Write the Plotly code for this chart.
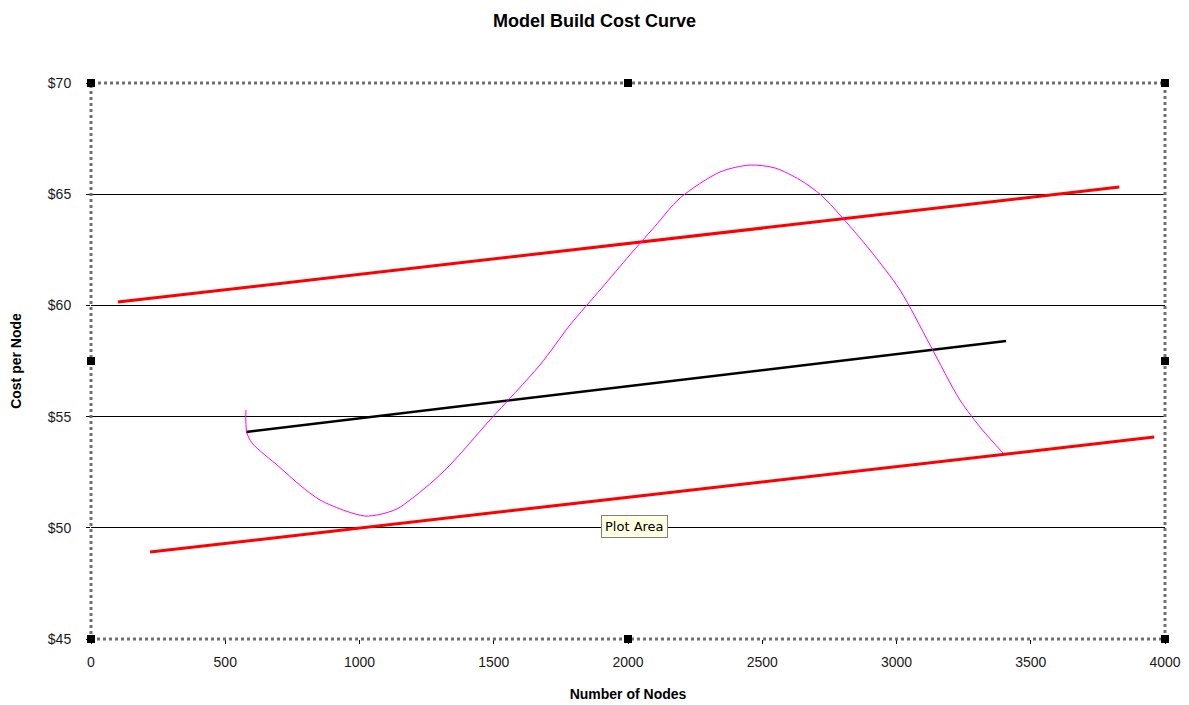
import plotly.graph_objects as go

# Upper and lower cost bounds (red), mid trend (black), observed cost curve (magenta)
upper_x = [100, 3830]
upper_y = [60.15, 65.32]
lower_x = [220, 3960]
lower_y = [48.91, 54.08]
trend_x = [577, 3408]
trend_y = [54.31, 58.40]
curve_x = [577, 580, 600, 700, 778, 853, 950, 1020, 1076, 1140, 1188, 1260, 1337,
           1486, 1672, 1784, 1900, 2007, 2100, 2194, 2343, 2454, 2547, 2641, 2720,
           2790, 2901, 3013, 3125, 3236, 3320, 3397]
curve_y = [55.30, 54.3, 53.81, 52.75, 51.92, 51.25, 50.75, 50.53, 50.60, 50.85, 51.25,
           51.95, 52.82, 54.85, 57.32, 59.12, 60.75, 62.27, 63.55, 64.83, 66.0, 66.31,
           66.18, 65.64, 64.95, 64.06, 62.49, 60.69, 58.22, 55.75, 54.4, 53.36]

x_ticks = [0, 500, 1000, 1500, 2000, 2500, 3000, 3500, 4000]
y_ticks = [45, 50, 55, 60, 65, 70]
y_labels = ["$45", "$50", "$55", "$60", "$65", "$70"]

fig = go.Figure()
fig.add_trace(go.Scatter(x=upper_x, y=upper_y, mode="lines",
                         line=dict(color="#FF0000", width=3), hoverinfo="skip"))
fig.add_trace(go.Scatter(x=lower_x, y=lower_y, mode="lines",
                         line=dict(color="#FF0000", width=3), hoverinfo="skip"))
fig.add_trace(go.Scatter(x=trend_x, y=trend_y, mode="lines",
                         line=dict(color="#000000", width=2.5), hoverinfo="skip"))
fig.add_trace(go.Scatter(x=curve_x, y=curve_y, mode="lines",
                         line=dict(color="#FF00FF", width=1, shape="spline", smoothing=0.8),
                         hoverinfo="skip"))

# Selection frame around the plot area with sizing handles
shapes = [dict(type="rect", xref="paper", yref="paper", x0=0, y0=0, x1=1, y1=1,
               line=dict(color="#707070", width=3, dash="dot"), layer="above")]
hw, hh = 4 / 1074, 4 / 556
for hx, hy in [(0, 0), (0.5, 0), (1, 0), (0, 0.5), (1, 0.5), (0, 1), (0.5, 1), (1, 1)]:
    shapes.append(dict(type="rect", xref="paper", yref="paper",
                       x0=hx - hw, x1=hx + hw, y0=hy - hh, y1=hy + hh,
                       fillcolor="#000000", line=dict(width=0), layer="above"))

fig.update_layout(
    width=1189, height=705,
    margin=dict(l=91, r=24, t=83, b=66),
    paper_bgcolor="white", plot_bgcolor="white",
    showlegend=False,
    font=dict(family="Arial, Liberation Sans, sans-serif", size=14, color="#000000"),
    title=dict(text="<b>Model Build Cost Curve</b>", x=0.5, xanchor="center",
               y=0.971, yanchor="middle", font=dict(size=18)),
    xaxis=dict(range=[0, 4000], tickvals=x_ticks, showgrid=False, zeroline=False,
               ticks="outside", ticklen=4, tickcolor="#000000",
               showline=False, ticklabelstandoff=6, automargin=False,
               tickfont=dict(size=14, color="#1a1a1a"),
               title=dict(text="<b>Number of Nodes</b>", font=dict(size=14), standoff=20)),
    yaxis=dict(range=[45, 70], tickvals=y_ticks, ticktext=y_labels,
               showgrid=True, gridcolor="#000000", gridwidth=1, zeroline=False,
               ticks="outside", ticklen=4, tickcolor="#000000",
               showline=False, ticklabelstandoff=12, automargin=False,
               tickfont=dict(size=14, color="#1a1a1a"),
               title=dict(text="<b>Cost per Node</b>", font=dict(size=14), standoff=22)),
    shapes=shapes,
    annotations=[dict(text="Plot Area", xref="x", yref="y", x=2026, y=50.05,
                      xanchor="center", yanchor="middle", showarrow=False,
                      font=dict(family="Tahoma, DejaVu Sans, sans-serif", size=13, color="#000000"),
                      bgcolor="#FFFFE1", bordercolor="#808080", borderwidth=1, borderpad=3)],
)

fig.write_html("out.html")
